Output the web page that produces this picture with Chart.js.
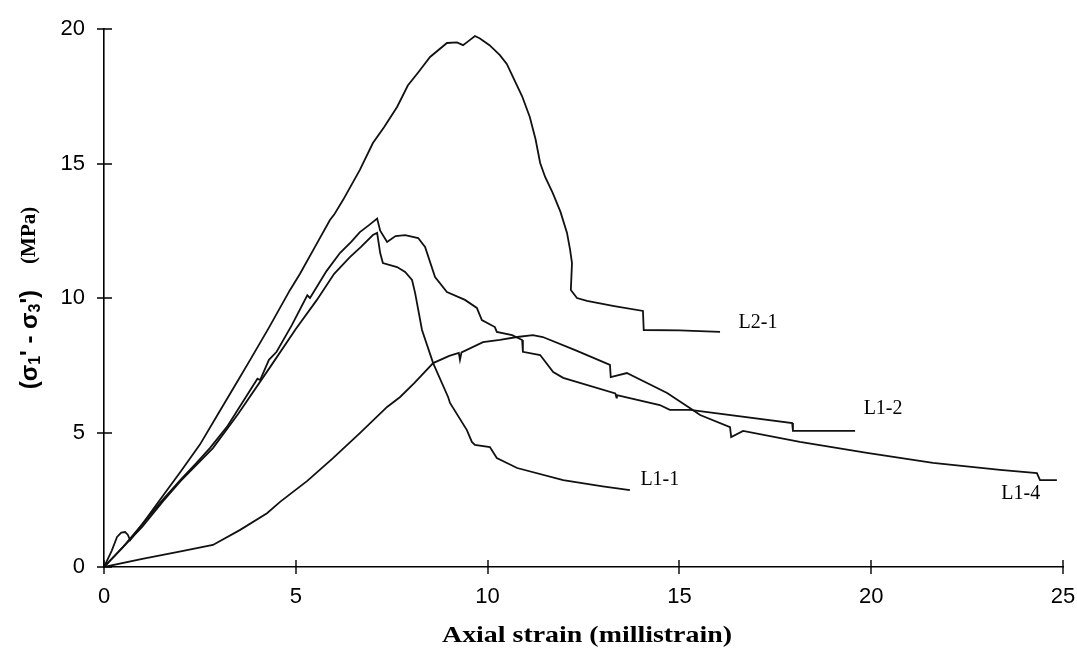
<!DOCTYPE html>
<html>
<head>
<meta charset="utf-8">
<script src="https://cdn.jsdelivr.net/npm/chart.js@4/dist/chart.umd.min.js"></script>
<style>
body{margin:0;background:#fff;}
</style>
</head>
<body>
<canvas id="chart" width="1077" height="650"></canvas>
<script>

/* ================= DATA: axial strain (millistrain), deviator stress (MPa) ================= */

let L2_1 = [
[0,0],[0.5,0.75],[1.0,1.6],[1.46,2.5],[2.0,3.55],[2.5,4.55],[3.0,5.75],[3.5,6.95],[3.81,7.7],
[4.3,8.9],[4.85,10.3],[5.11,10.9],[5.5,11.9],[5.89,12.9],[6.0,13.1],[6.23,13.64],[6.67,14.76],
[7.01,15.76],[7.3,16.35],[7.64,17.1],[7.92,17.9],[8.2,18.4],[8.5,18.96],[8.94,19.48],[9.2,19.5],
[9.36,19.4],[9.5,19.55],[9.67,19.74],[9.8,19.65],[10.05,19.4],[10.32,19.03],[10.5,18.7],
[10.66,18.22],[10.9,17.5],[11.1,16.73],[11.25,15.9],[11.37,15.02],[11.5,14.5],[11.7,13.9],
[11.9,13.2],[12.07,12.42],[12.15,11.8],[12.2,11.3],[12.17,10.3],[12.33,10.0],[12.59,9.89],
[13.3,9.7],[14.05,9.52],[14.07,8.81],[15.0,8.8],[16.06,8.74]
];

let L1_2 = [
[0,0],[0.2,0.6],[0.34,1.12],[0.45,1.28],[0.55,1.3],[0.62,1.2],[0.68,1.0],[1.0,1.6],[1.5,2.45],
[2.0,3.25],[2.4,3.85],[2.76,4.42],[3.2,5.2],[3.6,6.1],[4.0,7.0],[4.07,6.95],[4.3,7.7],[4.5,8.0],
[4.9,9.0],[5.3,10.1],[5.37,10.0],[5.8,11.0],[6.15,11.67],[6.45,12.1],[6.67,12.45],[6.9,12.7],
[7.12,12.95],[7.2,12.5],[7.38,12.08],[7.6,12.3],[7.85,12.34],[8.19,12.23],[8.37,11.9],
[8.63,10.78],[8.94,10.22],[9.41,9.93],[9.72,9.63],[9.85,9.18],[10.19,8.92],[10.24,8.74],
[10.64,8.62],[10.9,8.44],[10.92,8.0],[11.37,7.88],[11.71,7.25],[11.97,7.03],[13.33,6.45],
[13.36,6.3],[13.37,6.39],[14.49,6.02],[14.75,5.84],[15.28,5.84],[17.94,5.35],[17.96,5.06],
[19.58,5.06]
];

let L1_1 = [
[0,0],[0.5,0.75],[1.0,1.5],[1.54,2.45],[2.0,3.2],[2.84,4.42],[3.5,5.7],[4.33,7.43],[5.0,8.85],
[5.55,9.93],[6.0,10.9],[6.41,11.52],[6.7,11.9],[7.01,12.34],[7.12,12.42],[7.2,11.67],[7.27,11.3],
[7.64,11.15],[7.85,10.97],[8.03,10.67],[8.11,10.19],[8.29,8.81],[8.58,7.58],[8.97,6.32],
[9.02,6.1],[9.46,5.09],[9.59,4.65],[9.67,4.54],[10.06,4.46],[10.24,4.05],[10.77,3.68],
[11.97,3.23],[13.0,3.0],[13.71,2.86]
];

let L1_4 = [
[0,0],[1.0,0.3],[2.0,0.58],[2.84,0.82],[3.55,1.38],[4.25,2.0],[4.59,2.42],[5.3,3.2],[5.97,4.05],
[6.67,4.98],[7.38,5.95],[7.72,6.32],[8.1,6.85],[8.58,7.58],[9.0,7.85],[9.25,7.96],[9.28,7.7],
[9.32,7.98],[9.88,8.36],[10.32,8.44],[10.77,8.55],[11.18,8.62],[11.44,8.55],[12.3,8.05],
[13.19,7.51],[13.21,7.06],[13.63,7.21],[14.68,6.47],[15.35,5.84],[15.54,5.65],[16.32,5.2],
[16.35,4.83],[16.66,5.06],[18.14,4.65],[19.89,4.24],[21.61,3.87],[23.36,3.61],[24.32,3.49],
[24.4,3.23],[24.84,3.23]
];

let seriesNames = ["L2-1","L1-2","L1-1","L1-4"];
let seriesData = [L2_1, L1_2, L1_1, L1_4];

// where each specimen name sits, in data units
let labelPos = [[17.05,9.07],[20.31,5.87],[14.49,3.23],[23.9,2.71]];

let xTicks = [0,5,10,15,20,25];
let yTicks = [0,5,10,15,20];

let xTitle = "Axial strain (millistrain)";

/* ================= PLUGINS ================= */

// tick marks that cross the axis lines
let crossTicks = {
id:"crossTicks",
afterDraw(chart){
let c = chart.ctx;
let xs = chart.scales.x;
let ys = chart.scales.y;
c.save();
c.strokeStyle = "#000";
c.lineWidth = 1.4;
c.beginPath();
xTicks.forEach(v=>{
let px = Math.round(xs.getPixelForValue(v));
c.moveTo(px, ys.bottom-7);
c.lineTo(px, ys.bottom+7);
});
yTicks.forEach(v=>{
let py = Math.round(ys.getPixelForValue(v));
c.moveTo(xs.left-7, py);
c.lineTo(xs.left+8, py);
});
c.stroke();
c.restore();
}
};

// specimen names next to the curve ends
let curveNames = {
id:"curveNames",
afterDatasetsDraw(chart){
let c = chart.ctx;
c.save();
c.fillStyle = "#000";
c.font = "20px 'Liberation Serif'";
c.textAlign = "center";
c.textBaseline = "middle";
seriesNames.forEach((n,i)=>{
let px = chart.scales.x.getPixelForValue(labelPos[i][0]);
let py = chart.scales.y.getPixelForValue(labelPos[i][1]);
c.fillText(n, px, py);
});
c.restore();
}
};

// axis titles: wide bold x title, rotated y title with subscripts
let axisTitles = {
id:"axisTitles",
afterDraw(chart){
let c = chart.ctx;
c.save();
c.fillStyle = "#000";

// x title, stretched to the wide face of the printed figure
c.font = "bold 23px 'Liberation Serif'";
let w = c.measureText(xTitle).width;
c.save();
c.translate(587, 636);
c.scale(290/w, 1);
c.textAlign = "center";
c.textBaseline = "middle";
c.fillText(xTitle, 0, 0);
c.restore();

// y title: (σ1' - σ3')  (MPa)
let sans = "bold 24px 'Liberation Sans'";
let sub = "bold 16px 'Liberation Sans'";
let serif = "bold 21px 'Liberation Serif'";
let parts = [
{t:"(\u03c3", f:sans, dy:0},
{t:"1", f:sub, dy:6},
{t:"' - \u03c3", f:sans, dy:0},
{t:"3", f:sub, dy:6},
{t:"')", f:sans, dy:0},
{t:"", f:sans, dy:0, gap:26},
{t:"(MPa)", f:serif, dy:0}
];
let total = 0;
parts.forEach(p=>{
c.font = p.f;
p.w = c.measureText(p.t).width + (p.gap || 0);
total += p.w;
});
c.translate(30, 298);
c.rotate(-Math.PI/2);
c.textBaseline = "middle";
c.textAlign = "left";
let x = -total/2;
parts.forEach(p=>{
c.font = p.f;
c.fillText(p.t, x, p.dy);
x += p.w;
});
c.restore();
}
};

/* ================= CHART ================= */

let ctx = document.getElementById("chart");

new Chart(ctx,{

type:"scatter",

data:{
datasets:seriesData.map((s,i)=>({
label:seriesNames[i],
data:s.map(p=>({x:p[0],y:p[1]})),
showLine:true,
borderColor:"#111",
borderWidth:1.8,
pointRadius:0,
tension:0,
fill:false
}))
},

options:{
responsive:false,
animation:false,
layout:{padding:{left:0,right:14,top:29,bottom:0}},
plugins:{
legend:{display:false},
tooltip:{enabled:false}
},
scales:{
x:{
type:"linear",
min:0,
max:25,
afterBuildTicks(scale){ scale.ticks = xTicks.map(v=>({value:v})); },
ticks:{padding:17,color:"#000",maxRotation:0,font:{family:"'Liberation Sans'",size:22}},
grid:{display:false,drawTicks:false},
border:{color:"#000",width:1.6},
afterFit(scale){
scale.height = 83;
scale.paddingLeft = 0;
scale.paddingRight = 0;
}
},
y:{
type:"linear",
min:0,
max:20,
afterBuildTicks(scale){ scale.ticks = yTicks.map(v=>({value:v})); },
ticks:{padding:19,color:"#000",font:{family:"'Liberation Sans'",size:22}},
grid:{display:false,drawTicks:false},
border:{color:"#000",width:1.6},
afterFit(scale){
scale.width = 104;
scale.paddingTop = 0;
scale.paddingBottom = 0;
}
}
}
},

plugins:[crossTicks, curveNames, axisTitles]

});

</script>
</body>
</html>
